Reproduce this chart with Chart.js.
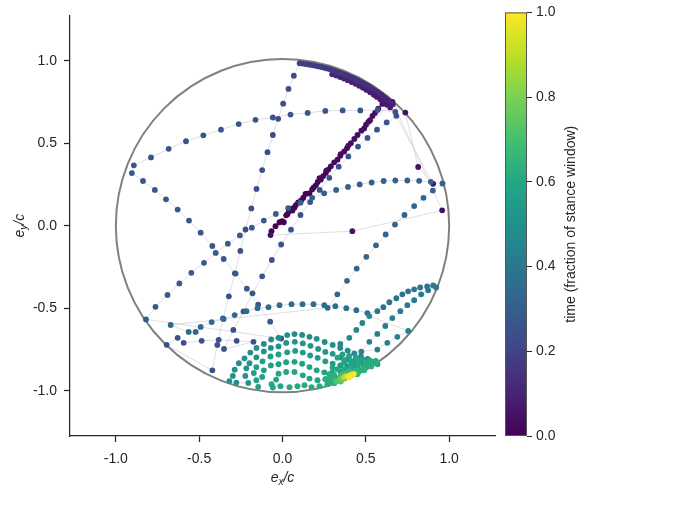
<!DOCTYPE html>
<html lang="en">
<head>
    <meta charset="UTF-8">
    <title>Eccentricity trajectory</title>
    <script src="https://cdn.jsdelivr.net/npm/chart.js"></script>
    <style>
        body { margin: 0; background: #fff; }
        #wrap { position: relative; width: 677px; height: 513px; }
        #wrap canvas { position: absolute; left: 0; top: 0; }
    </style>
</head>
<body>
<div id="wrap">
    <canvas id="phase" width="677" height="513"></canvas>
    <canvas id="cbar" width="677" height="513"></canvas>
</div>

<script>
    // each point: [ex/c, ey/c, time as fraction of stance window], in time order
    const diagonal = [
        [-0.066,-0.033,0.000],[-0.042,-0.003,0.002],[-0.018,0.021,0.003],[-0.002,0.027,0.004],[0.008,0.021,0.004],
        [0.022,0.063,0.005],[0.030,0.070,0.006],[0.038,0.087,0.007],[0.052,0.103,0.008],[0.060,0.092,0.008],
        [0.072,0.111,0.009],[0.080,0.125,0.010],[0.094,0.141,0.010],[0.112,0.154,0.011],[0.125,0.170,0.012],
        [0.138,0.193,0.013],[0.148,0.195,0.014],[0.162,0.196,0.014],[0.178,0.220,0.015],[0.187,0.232,0.016],
        [0.200,0.245,0.017],[0.211,0.265,0.018],[0.222,0.289,0.019],[0.230,0.280,0.019],[0.244,0.301,0.020],
        [0.260,0.320,0.021],[0.263,0.334,0.022],[0.275,0.340,0.022],[0.290,0.360,0.023],[0.310,0.384,0.025],
        [0.330,0.400,0.026],[0.347,0.424,0.027],[0.349,0.434,0.027],[0.370,0.450,0.028],[0.387,0.470,0.029],
        [0.395,0.486,0.030],[0.410,0.500,0.031],[0.431,0.526,0.032],[0.450,0.550,0.033],[0.473,0.576,0.035],
        [0.490,0.590,0.036],[0.501,0.612,0.037],[0.515,0.630,0.038],[0.525,0.640,0.039],[0.540,0.665,0.040],
        [0.555,0.684,0.041],[0.575,0.710,0.042],[0.599,0.738,0.043],[0.625,0.740,0.044],[0.660,0.750,0.045]
    ];
    const strays = [
        [0.958,0.093,0.046],[0.419,-0.033,0.047],[-0.072,-0.057,0.048],[0.641,0.740,0.050],
        [0.904,0.254,0.051],[0.814,0.356,0.052],[0.737,0.686,0.054],[0.553,0.793,0.056]
    ];
    const arcInner = [
        [0.646,0.717,0.070],[0.627,0.734,0.072],[0.607,0.750,0.074],[0.587,0.766,0.076],[0.567,0.781,0.078],
        [0.547,0.795,0.080],[0.526,0.809,0.082],[0.504,0.823,0.084],[0.483,0.836,0.086],[0.460,0.848,0.088],
        [0.438,0.860,0.090],[0.415,0.871,0.092],[0.392,0.882,0.094],[0.369,0.892,0.096],[0.346,0.901,0.097],
        [0.322,0.910,0.099],[0.298,0.918,0.100]
    ];
    const arcOuter = [
        [0.662,0.736,0.100],[0.650,0.747,0.102],[0.636,0.758,0.105],[0.623,0.769,0.107],[0.610,0.780,0.110],
        [0.596,0.791,0.112],[0.582,0.801,0.115],[0.568,0.811,0.117],[0.554,0.821,0.120],[0.539,0.830,0.122],
        [0.525,0.840,0.125],[0.510,0.849,0.127],[0.495,0.857,0.130],[0.480,0.866,0.132],[0.465,0.874,0.135],
        [0.449,0.882,0.137],[0.434,0.890,0.140],[0.418,0.897,0.142],[0.403,0.904,0.145],[0.387,0.911,0.147],
        [0.371,0.918,0.150],[0.355,0.924,0.152],[0.339,0.930,0.155],[0.322,0.936,0.157],[0.306,0.942,0.160],
        [0.289,0.947,0.162],[0.273,0.952,0.165],[0.256,0.956,0.167],[0.239,0.961,0.170],[0.223,0.965,0.172],
        [0.206,0.968,0.175],[0.189,0.972,0.177],[0.172,0.975,0.180],[0.155,0.978,0.182],[0.138,0.980,0.185],
        [0.121,0.983,0.187],[0.103,0.985,0.190]
    ];
    const lineA = [
        [0.068,0.909,0.225],[0.036,0.829,0.226],[0.004,0.740,0.228],[-0.026,0.648,0.229],[-0.058,0.550,0.230],
        [-0.090,0.446,0.232],[-0.122,0.337,0.233],[-0.156,0.223,0.234],[-0.187,0.105,0.236],[-0.222,-0.023,0.237],
        [-0.253,-0.153,0.238],[-0.286,-0.289,0.240],[-0.322,-0.428,0.241],[-0.357,-0.562,0.242],[-0.391,-0.723,0.244],
        [-0.421,-0.877,0.245]
    ];
    const lowerLeft = [
        [-0.695,-0.722,0.246],[-0.629,-0.680,0.247],[-0.593,-0.710,0.247],[-0.485,-0.698,0.248],
        [-0.383,-0.692,0.249],[-0.275,-0.698,0.249],[-0.174,-0.704,0.250]
    ];
    const lineG = [
        [-0.351,-0.747,0.250],[-0.295,-0.632,0.251],[-0.234,-0.520,0.251],[-0.180,-0.410,0.252],[-0.122,-0.307,0.252],
        [-0.064,-0.208,0.253],[-0.008,-0.114,0.253],[0.051,-0.024,0.254],[0.108,0.065,0.254],[0.166,0.143,0.255],
        [0.223,0.217,0.255],[0.281,0.290,0.256],[0.337,0.358,0.256],[0.395,0.420,0.257],[0.453,0.480,0.257],
        [0.510,0.532,0.258],[0.567,0.582,0.258],[0.625,0.626,0.259],[0.683,0.666,0.260]
    ];
    const lineB = [
        [0.677,0.690,0.260],[0.571,0.702,0.261],[0.467,0.699,0.261],[0.361,0.699,0.262],[0.257,0.696,0.263],
        [0.151,0.684,0.263],[0.048,0.674,0.264],[-0.058,0.656,0.265],[-0.162,0.642,0.265],[-0.263,0.616,0.266],
        [-0.369,0.582,0.267],[-0.475,0.548,0.267],[-0.579,0.512,0.268],[-0.683,0.466,0.269],[-0.789,0.414,0.269],
        [-0.892,0.366,0.270]
    ];
    const lineC = [
        [-0.904,0.319,0.270],[-0.837,0.271,0.271],[-0.766,0.217,0.272],[-0.699,0.160,0.272],[-0.629,0.098,0.273],
        [-0.561,0.031,0.274],[-0.491,-0.042,0.275],[-0.421,-0.123,0.275],[-0.353,-0.202,0.276],[-0.281,-0.290,0.277],
        [-0.214,-0.382,0.278],[-0.146,-0.478,0.278],[-0.074,-0.582,0.279],[-0.008,-0.684,0.280]
    ];
    const lineD = [
        [-0.819,-0.568,0.280],[-0.762,-0.492,0.281],[-0.690,-0.420,0.282],[-0.619,-0.350,0.284],[-0.547,-0.286,0.285],
        [-0.471,-0.225,0.286],[-0.401,-0.165,0.287],[-0.328,-0.109,0.288],[-0.256,-0.059,0.289],[-0.184,-0.012,0.290],
        [-0.112,0.031,0.292],[-0.040,0.071,0.293],[0.034,0.107,0.294],[0.108,0.139,0.295],[0.178,0.169,0.296],
        [0.250,0.196,0.298],[0.322,0.217,0.299],[0.393,0.235,0.300],[0.463,0.250,0.302],[0.535,0.262,0.303],
        [0.607,0.271,0.304],[0.677,0.274,0.306],[0.749,0.274,0.307],[0.820,0.272,0.308],[0.890,0.266,0.309],
        [0.960,0.256,0.310]
    ];
    const lineE = [
        [0.902,0.213,0.311],[0.846,0.169,0.313],[0.790,0.119,0.315],[0.732,0.065,0.316],[0.675,0.007,0.318],
        [0.619,-0.053,0.320],[0.561,-0.119,0.322],[0.503,-0.189,0.323],[0.445,-0.260,0.325],[0.387,-0.334,0.327],
        [0.329,-0.416,0.329],[0.271,-0.498,0.330]
    ];
    const arcF = [
        [-0.671,-0.602,0.330],[-0.563,-0.644,0.332],[-0.521,-0.644,0.335],[-0.491,-0.614,0.337],[-0.425,-0.584,0.340],
        [-0.353,-0.566,0.342],[-0.287,-0.542,0.344],[-0.216,-0.518,0.347],[-0.150,-0.500,0.349],[-0.084,-0.494,0.352],
        [-0.018,-0.482,0.354],[0.054,-0.476,0.356],[0.120,-0.476,0.359],[0.186,-0.476,0.361],[0.251,-0.482,0.364],
        [0.317,-0.488,0.366],[0.383,-0.500,0.368],[0.443,-0.512,0.371],[0.509,-0.530,0.373],[0.569,-0.518,0.376],
        [0.605,-0.494,0.378],[0.641,-0.464,0.380],[0.683,-0.440,0.383],[0.719,-0.416,0.385],[0.754,-0.398,0.388],
        [0.790,-0.386,0.390],[0.826,-0.374,0.392],[0.868,-0.368,0.395],[0.904,-0.362,0.397],[0.922,-0.374,0.400]
    ];
    const lowerBranch = [
        [0.874,-0.392,0.402],[0.832,-0.416,0.406],[0.790,-0.452,0.410],[0.749,-0.482,0.415],[0.707,-0.518,0.419],
        [0.659,-0.560,0.423],[0.617,-0.608,0.428],[0.569,-0.656,0.432],[0.521,-0.704,0.436],[0.473,-0.763,0.440]
    ];
    const sideBranch = [
        [0.569,-0.751,0.442],[0.629,-0.710,0.444],[0.689,-0.674,0.446],[0.754,-0.638,0.448],
        [0.521,-0.548,0.450],[0.479,-0.590,0.452],[0.443,-0.632,0.454],[0.401,-0.680,0.456],[0.347,-0.716,0.458]
    ];
    const loop1 = [
        [0.545,-0.828,0.470],[0.511,-0.807,0.471],[0.471,-0.793,0.472],[0.431,-0.774,0.474],[0.391,-0.757,0.475],
        [0.346,-0.741,0.476],[0.301,-0.723,0.478],[0.253,-0.705,0.479],[0.205,-0.686,0.480],[0.162,-0.674,0.482],
        [0.118,-0.662,0.483],[0.072,-0.657,0.484],[0.028,-0.663,0.486],[-0.024,-0.680,0.487],[-0.068,-0.690,0.488],
        [-0.112,-0.717,0.490],[-0.156,-0.741,0.491],[-0.193,-0.769,0.492],[-0.228,-0.804,0.494],[-0.262,-0.834,0.495],
        [-0.287,-0.873,0.496],[-0.298,-0.911,0.498],[-0.319,-0.942,0.499],[-0.277,-0.951,0.500]
    ];
    const loop2 = [
        [-0.205,-0.953,0.501],[-0.223,-0.911,0.503],[-0.217,-0.865,0.504],[-0.198,-0.834,0.506],[-0.157,-0.798,0.507],
        [-0.112,-0.762,0.509],[-0.070,-0.741,0.510],[-0.024,-0.732,0.512],[0.022,-0.711,0.513],[0.074,-0.704,0.515],
        [0.122,-0.714,0.516],[0.168,-0.728,0.518],[0.214,-0.747,0.519],[0.257,-0.765,0.521],[0.301,-0.777,0.522],
        [0.346,-0.798,0.524],[0.389,-0.811,0.525],[0.431,-0.823,0.527],[0.473,-0.829,0.528],[0.515,-0.835,0.530]
    ];
    const loop3 = [
        [0.485,-0.847,0.531],[0.437,-0.853,0.533],[0.389,-0.853,0.535],[0.347,-0.847,0.536],[0.301,-0.837,0.538],
        [0.257,-0.822,0.540],[0.211,-0.801,0.541],[0.166,-0.787,0.543],[0.122,-0.769,0.545],[0.076,-0.759,0.546],
        [0.028,-0.768,0.548],[-0.024,-0.781,0.550],[-0.072,-0.793,0.551],[-0.120,-0.822,0.553],[-0.157,-0.857,0.555],
        [-0.172,-0.893,0.556],[-0.157,-0.937,0.558],[-0.146,-0.977,0.560]
    ];
    const loop4 = [
        [-0.122,-0.917,0.561],[-0.112,-0.877,0.563],[-0.070,-0.847,0.565],[-0.024,-0.840,0.566],[0.022,-0.828,0.568],
        [0.072,-0.825,0.570],[0.118,-0.837,0.571],[0.162,-0.857,0.573],[0.205,-0.877,0.575],[0.251,-0.889,0.576],
        [0.299,-0.889,0.578],[0.347,-0.883,0.580]
    ];
    const loop5 = [
        [0.257,-0.931,0.581],[0.210,-0.937,0.583],[0.162,-0.927,0.585],[0.122,-0.907,0.587],[0.072,-0.887,0.589],
        [0.022,-0.887,0.590],[-0.024,-0.897,0.592],[-0.038,-0.933,0.594],[-0.012,-0.973,0.596],[-0.058,-0.981,0.598],
        [-0.066,-0.961,0.600]
    ];
    const bottomRow = [
        [0.042,-0.979,0.602],[0.090,-0.973,0.605],[0.132,-0.967,0.608],[0.174,-0.979,0.611],
        [0.222,-0.973,0.614],[0.269,-0.961,0.617],[0.311,-0.955,0.620]
    ];
    const denseBand = [
        [0.360,-0.780,0.560],[0.400,-0.790,0.565],[0.440,-0.800,0.570],[0.480,-0.810,0.575],[0.520,-0.815,0.580],
        [0.560,-0.820,0.585],[0.570,-0.840,0.590],[0.530,-0.840,0.592],[0.490,-0.840,0.594],[0.450,-0.820,0.596],
        [0.410,-0.820,0.598],[0.370,-0.815,0.600],[0.330,-0.800,0.600],[0.300,-0.860,0.602],[0.330,-0.870,0.604],
        [0.370,-0.870,0.606],[0.410,-0.865,0.608],[0.450,-0.860,0.610],[0.500,-0.855,0.612],[0.470,-0.875,0.614],
        [0.430,-0.885,0.616],[0.390,-0.900,0.640],[0.350,-0.910,0.660],[0.310,-0.905,0.630],[0.280,-0.900,0.620],
        [0.260,-0.930,0.620],[0.290,-0.925,0.640],[0.300,-0.950,0.650],[0.330,-0.935,0.700],[0.350,-0.945,0.740],
        [0.371,-0.829,0.580],[0.413,-0.835,0.590],[0.455,-0.835,0.600],[0.497,-0.829,0.610],[0.533,-0.823,0.620],
        [0.563,-0.829,0.620],[0.533,-0.853,0.630],[0.527,-0.847,0.630],[0.491,-0.877,0.640],[0.485,-0.865,0.640],
        [0.449,-0.901,0.650],[0.443,-0.877,0.650],[0.401,-0.883,0.660],[0.359,-0.901,0.680],[0.317,-0.919,0.640],
        [0.281,-0.943,0.620],[0.323,-0.943,0.720],[0.345,-0.930,0.760],[0.360,-0.925,0.800]
    ];
    const yellowEnd = [
        [0.370,-0.918,0.88],[0.383,-0.914,0.93],[0.395,-0.910,0.96],[0.407,-0.906,0.98],
        [0.418,-0.902,0.99],[0.428,-0.898,1.00],[0.400,-0.920,1.00]
    ];

    const axisTicks = [-1.0, -0.5, 0.0, 0.5, 1.0];
    const cbarTicks = [0.0, 0.2, 0.4, 0.6, 0.8, 1.0];
    const viridis = ['#440154','#482475','#414487','#355f8d','#2a788e','#21918c','#22a884','#44bf70','#7ad151','#bddf26','#fde725'];

    const path = [].concat(diagonal, strays, arcInner, arcOuter, lineA, lowerLeft, lineG, lineB, lineC,
        lineD, lineE, arcF, lowerBranch, sideBranch, loop1, loop2, loop3, loop4, loop5, bottomRow, denseBand, yellowEnd);

    function hexRgb(h) {
        return [parseInt(h.slice(1, 3), 16), parseInt(h.slice(3, 5), 16), parseInt(h.slice(5, 7), 16)];
    }
    function viridisAt(t) {
        const s = Math.max(0, Math.min(1, t)) * (viridis.length - 1);
        const i = Math.min(Math.floor(s), viridis.length - 2);
        const f = s - i;
        const a = hexRgb(viridis[i]), b = hexRgb(viridis[i + 1]);
        return 'rgb(' + a.map((c, k) => Math.round(c + (b[k] - c) * f)).join(',') + ')';
    }

    const INK = '#262626';
    const tickFont = { family: '"Liberation Sans", Arial, sans-serif', size: 14 };

    // unit circle |e| = c
    const unitCircle = {
        id: 'unitCircle',
        beforeDatasetsDraw(chart) {
            const { ctx, scales: { x, y } } = chart;
            const cx = x.getPixelForValue(0), cy = y.getPixelForValue(0);
            const r = x.getPixelForValue(1) - cx;
            ctx.save();
            ctx.beginPath();
            ctx.arc(cx, cy, r, 0, Math.PI * 2);
            ctx.strokeStyle = '#808080';
            ctx.lineWidth = 2;
            ctx.stroke();
            ctx.restore();
        }
    };

    // axis titles e_x/c and e_y/c with real subscripts
    function subLabel(ctx, x, y, sub, rot) {
        const big = 'italic 14px "Liberation Sans", Arial, sans-serif';
        const small = 'italic 10px "Liberation Sans", Arial, sans-serif';
        ctx.save();
        ctx.translate(x, y);
        ctx.rotate(rot);
        ctx.fillStyle = INK;
        ctx.textBaseline = 'alphabetic';
        ctx.textAlign = 'left';
        ctx.font = big;
        const we = ctx.measureText('e').width, wc = ctx.measureText('/c').width;
        ctx.font = small;
        const ws = ctx.measureText(sub).width;
        let x0 = -(we + ws + wc) / 2;
        ctx.font = big;
        ctx.fillText('e', x0, 0);
        ctx.font = small;
        ctx.fillText(sub, x0 + we, 3);
        ctx.font = big;
        ctx.fillText('/c', x0 + we + ws, 0);
        ctx.restore();
    }
    const axisTitles = {
        id: 'axisTitles',
        afterDraw(chart) {
            const a = chart.chartArea;
            subLabel(chart.ctx, (a.left + a.right) / 2, 482, 'x', 0);
            subLabel(chart.ctx, 24, (a.top + a.bottom) / 2, 'y', -Math.PI / 2);
        }
    };

    function axisOpts(fit, pad) {
        return {
            type: 'linear',
            min: -1.275,
            max: 1.275,
            afterFit: fit,
            afterBuildTicks: s => { s.ticks = axisTicks.map(v => ({ value: v })); },
            grid: { drawOnChartArea: false, tickLength: 6, tickWidth: 1.25, tickColor: INK },
            border: { color: INK, width: 1.25 },
            ticks: { callback: v => v.toFixed(1), color: INK, font: tickFont, padding: pad, maxRotation: 0 }
        };
    }

    new Chart(document.getElementById('phase'), {
        type: 'scatter',
        data: {
            datasets: [
                {
                    data: path.map(p => ({ x: p[0], y: p[1] })),
                    pointRadius: 2.9,
                    pointBorderWidth: 0,
                    pointBackgroundColor: path.map(p => viridisAt(p[2])),
                    order: 0
                },
                {
                    data: path.map(p => ({ x: p[0], y: p[1] })),
                    showLine: true,
                    borderColor: 'rgba(190,190,190,0.55)',
                    borderWidth: 0.9,
                    pointRadius: 0,
                    order: 1
                }
            ]
        },
        options: {
            responsive: false,
            animation: false,
            devicePixelRatio: 1,
            layout: { padding: { top: 11, right: 182, left: 0, bottom: 0 } },
            plugins: { legend: { display: false }, tooltip: { enabled: false } },
            scales: {
                x: axisOpts(s => { s.height = 77; }, 9),
                y: axisOpts(s => { s.width = 70; }, 7)
            }
        },
        plugins: [unitCircle, axisTitles]
    });

    // colorbar: gradient body, outline and rotated label
    const colorbarFill = {
        id: 'colorbarFill',
        beforeDatasetsDraw(chart) {
            const { ctx, chartArea: a } = chart;
            const g = ctx.createLinearGradient(0, a.bottom, 0, a.top);
            viridis.forEach((c, i) => g.addColorStop(i / (viridis.length - 1), c));
            ctx.save();
            ctx.fillStyle = g;
            ctx.fillRect(a.left, a.top, a.right - a.left, a.bottom - a.top);
            ctx.strokeStyle = '#555';
            ctx.lineWidth = 1;
            ctx.strokeRect(a.left + 0.5, a.top + 0.5, a.right - a.left - 1, a.bottom - a.top - 1);
            ctx.translate(571, (a.top + a.bottom) / 2);
            ctx.rotate(-Math.PI / 2);
            ctx.fillStyle = INK;
            ctx.font = '14px "Liberation Sans", Arial, sans-serif';
            ctx.textAlign = 'center';
            ctx.textBaseline = 'middle';
            ctx.fillText('time (fraction of stance window)', 0, 0);
            ctx.restore();
        }
    };

    new Chart(document.getElementById('cbar'), {
        type: 'scatter',
        data: { datasets: [] },
        options: {
            responsive: false,
            animation: false,
            devicePixelRatio: 1,
            layout: { padding: { left: 505, top: 11, bottom: 77, right: 0 } },
            plugins: { legend: { display: false }, tooltip: { enabled: false } },
            scales: {
                x: { display: false },
                y: {
                    position: 'right',
                    min: 0,
                    max: 1,
                    afterFit: s => { s.width = 150; },
                    afterBuildTicks: s => { s.ticks = cbarTicks.map(v => ({ value: v })); },
                    grid: { drawOnChartArea: false, tickLength: 5, tickWidth: 1, tickColor: INK },
                    border: { display: false },
                    ticks: { callback: v => v.toFixed(1), color: INK, font: tickFont, padding: 4 }
                }
            }
        },
        plugins: [colorbarFill]
    });
</script>
</body>
</html>
